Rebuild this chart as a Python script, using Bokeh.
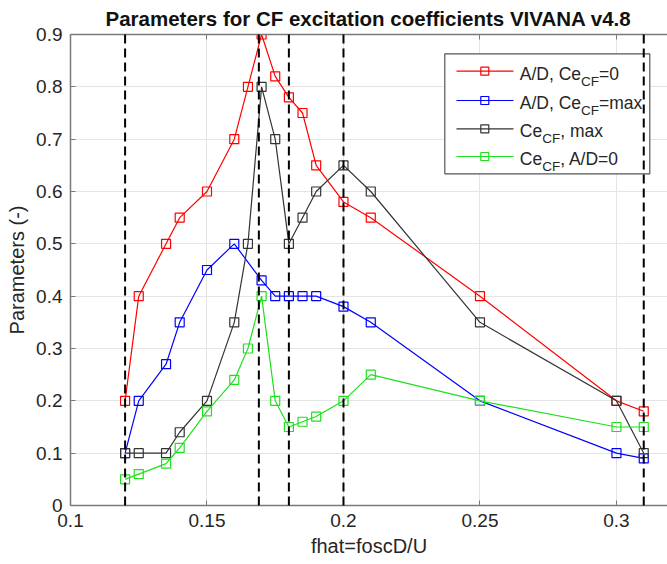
from bokeh.plotting import figure
from bokeh.models import Range1d, FixedTicker, LinearAxis, BoxAnnotation, Label, Arrow
from bokeh.embed import file_html
from bokeh.resources import INLINE

# ---------------- data ----------------
fhat = [0.12, 0.125, 0.135, 0.14, 0.15, 0.16, 0.165, 0.17, 0.175, 0.18,
        0.185, 0.19, 0.2, 0.21, 0.25, 0.3, 0.31]
ad_ce0 = [0.2, 0.4, 0.5, 0.55, 0.6, 0.7, 0.8, 0.9, 0.82, 0.78,
          0.75, 0.65, 0.58, 0.55, 0.4, 0.2, 0.18]
fhat_blue = [0.12, 0.125, 0.135, 0.14, 0.15, 0.16, 0.17, 0.175, 0.18,
             0.185, 0.19, 0.2, 0.21, 0.25, 0.3, 0.31]
ad_cemax = [0.1, 0.2, 0.27, 0.35, 0.45, 0.5, 0.43, 0.4, 0.4,
            0.4, 0.4, 0.38, 0.35, 0.2, 0.1, 0.09]
ce_max = [0.1, 0.1, 0.1, 0.14, 0.2, 0.35, 0.5, 0.8, 0.7, 0.5,
          0.55, 0.6, 0.65, 0.6, 0.35, 0.2, 0.1]
ce_ad0 = [0.05, 0.06, 0.08, 0.11, 0.18, 0.24, 0.3, 0.4, 0.2, 0.15,
          0.16, 0.17, 0.2, 0.25, 0.2, 0.15, 0.15]
dashed_x = [0.12, 0.169, 0.18, 0.2, 0.31]

x_ticks = [0.1, 0.15, 0.2, 0.25, 0.3]
x_tick_labels = ["0.1", "0.15", "0.2", "0.25", "0.3"]
y_ticks = [0.0, 0.1, 0.2, 0.3, 0.4, 0.5, 0.6, 0.7, 0.8, 0.9]
y_tick_labels = ["0", "0.1", "0.2", "0.3", "0.4", "0.5", "0.6", "0.7", "0.8", "0.9"]

series_colors = ["#ff0000", "#0000ff", "#333333", "#1fe01f"]
legend_parts = [("A/D, Ce", "CF", "=0"), ("A/D, Ce", "CF", "=max"),
                ("Ce", "CF", ", max"), ("Ce", "CF", ", A/D=0")]

title_text = "Parameters for CF excitation coefficients VIVANA v4.8"
x_label = "fhat=foscD/U"
y_label = "Parameters (-)"

FONT = "Liberation Sans"
AX_COL = "#7a7a7a"
TXT_COL = "#262626"

p = figure(width=667, height=564, output_backend="svg", toolbar_location=None,
           x_range=Range1d(0.1, 0.3187), y_range=Range1d(0, 0.9),
           title=title_text)
p.min_border_left = 70
p.min_border_right = 0
p.min_border_top = 33
p.min_border_bottom = 59
p.outline_line_color = None
p.background_fill_color = "white"
p.border_fill_color = "white"

p.title.text_font = FONT
p.title.text_font_size = "20.5px"
p.title.text_font_style = "bold"
p.title.text_color = "#111111"
p.title.align = "left"
p.title.offset = 35
p.title.standoff = 9

for ax in (p.xaxis[0], p.yaxis[0]):
    ax.axis_line_color = AX_COL
    ax.axis_line_width = 1.5
    ax.major_tick_line_color = AX_COL
    ax.major_tick_in = 5
    ax.major_tick_out = 0
    ax.minor_tick_in = 0
    ax.minor_tick_out = 0
    ax.major_label_text_font = FONT
    ax.major_label_text_font_size = "19px"
    ax.major_label_text_color = TXT_COL
    ax.axis_label_text_font = FONT
    ax.axis_label_text_font_size = "20px"
    ax.axis_label_text_font_style = "normal"
    ax.axis_label_text_color = TXT_COL
    ax.axis_label_standoff = 5

p.xaxis[0].ticker = FixedTicker(ticks=x_ticks)
p.xaxis[0].major_label_overrides = dict(zip(x_ticks, x_tick_labels))
p.xaxis[0].major_label_standoff = 8
p.xaxis[0].axis_label = x_label
p.yaxis[0].ticker = FixedTicker(ticks=y_ticks)
p.yaxis[0].major_label_overrides = dict(zip(y_ticks, y_tick_labels))
p.yaxis[0].major_label_standoff = 8
p.yaxis[0].axis_label = y_label

top_axis = LinearAxis(ticker=FixedTicker(ticks=x_ticks),
                      axis_line_color=AX_COL, axis_line_width=1.5,
                      major_tick_line_color=AX_COL, major_tick_in=5, major_tick_out=0,
                      minor_tick_in=0, minor_tick_out=0,
                      major_label_text_color=None, major_label_text_font_size="1px",
                      major_label_standoff=0)
p.add_layout(top_axis, "above")

p.xgrid.ticker = FixedTicker(ticks=x_ticks)
p.ygrid.ticker = FixedTicker(ticks=y_ticks)
p.grid.grid_line_color = "#e4e4e4"
p.grid.grid_line_width = 1

# ---------------- series ----------------
xs_list = [fhat, fhat_blue, fhat, fhat]
ys_list = [ad_ce0, ad_cemax, ce_max, ce_ad0]
for xs, ys, c in zip(xs_list, ys_list, series_colors):
    p.line(xs, ys, line_color=c, line_width=1.2)
    p.scatter(xs, ys, marker="square", size=9, fill_color=None,
              line_color=c, line_width=1.2)

# dashed reference lines
seg = p.segment(x0=dashed_x, y0=[0.9] * len(dashed_x), x1=dashed_x, y1=[0.0] * len(dashed_x),
                line_color="black", line_width=2, line_dash="9 5")
seg.level = "overlay"

# ---------------- legend (manual, screen units from frame bottom-left) ----------------
box_l, box_r, box_t, box_b = 374.3, 579.3, 451.7, 331.7
p.add_layout(BoxAnnotation(left=box_l, right=box_r, top=box_t, bottom=box_b,
                           left_units="screen", right_units="screen",
                           top_units="screen", bottom_units="screen",
                           fill_color="white", fill_alpha=1.0,
                           line_color="#555555", line_width=1.2, line_alpha=1.0))

W = {"A": 667, "/": 278, "D": 722, ",": 278, " ": 278, "C": 722, "e": 556,
     "F": 611, "=": 584, "0": 556, "m": 833, "a": 556, "x": 500}


def tw(s, size):
    return sum(W.get(ch, 556) for ch in s) / 1000.0 * size


row_y = [434.3, 405.0, 376.7, 349.0]
for (main, sub, suf), c, ry in zip(legend_parts, series_colors, row_y):
    p.add_layout(Arrow(x_start=386, y_start=ry, x_end=443, y_end=ry,
                       start_units="screen", end_units="screen",
                       start=None, end=None, line_color=c, line_width=1.2))
    p.add_layout(BoxAnnotation(left=410.3, right=418.3, top=ry + 4, bottom=ry - 4,
                               left_units="screen", right_units="screen",
                               top_units="screen", bottom_units="screen",
                               fill_color=None, fill_alpha=0.0,
                               line_color=c, line_width=1.2, line_alpha=1.0))
    x0 = 449.3
    p.add_layout(Label(x=x0, y=ry - 2.6, x_units="screen", y_units="screen",
                       text=main, text_font=FONT, text_font_size="17.5px",
                       text_color=TXT_COL, text_baseline="alphabetic", text_align="left"))
    x1 = x0 + tw(main, 17.5)
    p.add_layout(Label(x=x1, y=ry - 10, x_units="screen", y_units="screen",
                       text=sub, text_font=FONT, text_font_size="13.5px",
                       text_color=TXT_COL, text_baseline="alphabetic", text_align="left"))
    x2 = x1 + tw(sub, 13.5)
    p.add_layout(Label(x=x2, y=ry - 2.6, x_units="screen", y_units="screen",
                       text=suf, text_font=FONT, text_font_size="17.5px",
                       text_color=TXT_COL, text_baseline="alphabetic", text_align="left"))

open("out.html", "w").write(file_html(p, INLINE))
